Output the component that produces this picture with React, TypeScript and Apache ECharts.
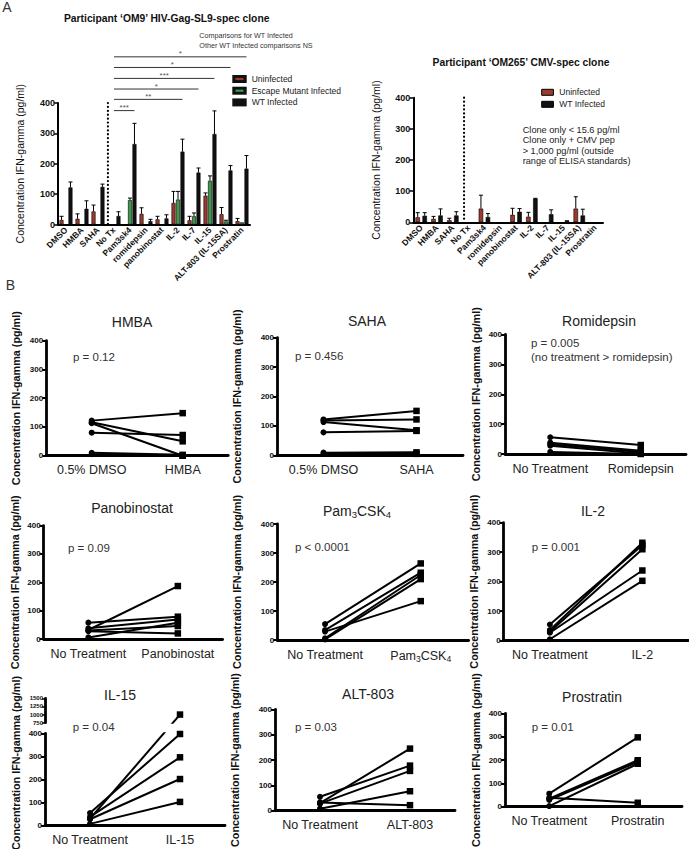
import React, { useEffect, useRef } from 'react';
import * as echarts from 'echarts';

const FONT = '"Liberation Sans", Arial, Helvetica, sans-serif';
const RED = '#9b3a2e';
const GREEN = '#3d9a4d';
const BLACK = '#111111';
const YNAME = 'Concentration IFN-gamma (pg/ml)';

// ---------------- Panel A data ----------------
const treatmentsA = ['DMSO', 'HMBA', 'SAHA', 'No Tx', 'Pam3sk4', 'romidepsin', 'panobinostat', 'IL-2', 'IL-7', 'IL-15', 'ALT-803 (IL-15SA)', 'Prostratin'];
const yTicksA = [0, 100, 200, 300, 400];
const seriesNamesOM9 = ['Uninfected', 'Escape Mutant Infected', 'WT Infected'];
const om9Uninfected = [15, 19, 43, null, null, 35, 17, 71, 14, 95, 34, 11];
const om9UninfectedSD = [27, 35, 64, null, null, 55, 27, 109, 27, 104, 56, 20];
const om9Escape = [null, null, null, null, 80, null, null, 82, 27, 144, 10, 7];
const om9EscapeSD = [null, null, null, null, 87, null, null, 109, 38, 160, 14, null];
const om9WT = [122, 52, 124, 28, 265, 11, 20, 240, 171, 298, 178, 184];
const om9WTSD = [140, 78, 133, 42, 333, 17, 32, 281, 186, 374, 194, 227];
const sigTargets = ['Pam3sk4', 'IL-2', 'IL-7', 'IL-15', 'ALT-803 (IL-15SA)', 'Prostratin'];
const sigStars = ['***', '**', '*', '***', '*', '*'];
const sigLevels = [375, 412, 446, 481, 517, 552];
const om9Notes = ['Comparisons for WT Infected', 'Other WT Infected comparisons NS'];

const seriesNamesOM265 = ['Uninfected', 'WT Infected'];
const om265Uninfected = [16, 11, 7, null, 44, null, 24, 18, null, null, 44, null];
const om265UninfectedSD = [31, 19, 13, null, 87, null, 45, 32, null, null, 82, null];
const om265WT = [21, 22, 22, null, 17, null, 34, 76, 26, 4, 22, null];
const om265WTSD = [31, 43, 34, null, 28, null, 44, 77, 40, 5, 42, null];
const om265Notes = ['Clone only < 15.6 pg/ml', 'Clone only + CMV pep', '> 1,000 pg/ml (outside', 'range of ELISA standards)'];

// ---------------- Panel B data ----------------
const hmbaCats = ['0.5% DMSO', 'HMBA'];
const hmbaBefore = [122, 116, 113, 80, 10, 5];
const hmbaAfter = [148, 50, 0, 72, 3, 0];
const sahaCats = ['0.5% DMSO', 'SAHA'];
const sahaBefore = [122, 118, 113, 78, 9, 5];
const sahaAfter = [151, 122, 85, 83, 10, 5];
const romiCats = ['No Treatment', 'Romidepsin'];
const romiBefore = [56, 38, 33, 28, 7];
const romiAfter = [30, 11, 7, 2, 0];
const panoCats = ['No Treatment', 'Panobinostat'];
const panoBefore = [58, 32, 38, 28, 6, 30];
const panoAfter = [79, 187, 69, 20, 58, 46];
const pamCats = ['No Treatment', 'Pam3CSK4'];
const pamBefore = [55, 34, 29, 6, 2];
const pamAfter = [264, 232, 134, 224, 210];
const il2Cats = ['No Treatment', 'IL-2'];
const il2Before = [55, 36, 30, 27, 5];
const il2After = [324, 332, 310, 238, 203];
const il15Cats = ['No Treatment', 'IL-15'];
const il15Before = [30, 55, 38, 28, 8];
const il15After = [1000, 397, 296, 202, 103];
const il15UpperTicks = [750, 1000, 1250, 1500];
const altCats = ['No Treatment', 'ALT-803'];
const altBefore = [30, 55, 28, 8, 33];
const altAfter = [245, 178, 157, 77, 22];
const proCats = ['No Treatment', 'Prostratin'];
const proBefore = [56, 35, 29, 3, 38];
const proAfter = [297, 199, 192, 184, 17];
const yTicksB = [0, 100, 200, 300, 400];

const PAM_RICH = '{a|Pam}{s|3}{a|CSK}{s|4}';

// layout of the B panels
const panelsB: any[] = [
  { title: 'HMBA', cats: hmbaCats, before: hmbaBefore, after: hmbaAfter, p: ['p = 0.12'], left: 46.2, top: 340.7, width: 182, height: 115, gap: 25, tx: 132, ty: 322, px: 73, py: 356.7 },
  { title: 'SAHA', cats: sahaCats, before: sahaBefore, after: sahaAfter, p: ['p = 0.456'], left: 277, top: 337.7, width: 186, height: 117.6, gap: 35, tx: 367, ty: 321, px: 295, py: 356 },
  { title: 'Romidepsin', cats: romiCats, before: romiBefore, after: romiAfter, p: ['p = 0.005', '(no treatment > romidepsin)'], left: 505, top: 334.5, width: 181, height: 119.5, gap: 24, tx: 599, ty: 321, px: 531, py: 343.3 },
  { title: 'Panobinostat', cats: panoCats, before: panoBefore, after: panoAfter, p: ['p = 0.09'], left: 43.6, top: 525.6, width: 179, height: 113.5, gap: 23, tx: 132, ty: 508, px: 68, py: 548 },
  { title: PAM_RICH, rich: true, cats: pamCats, before: pamBefore, after: pamAfter, p: ['p < 0.0001'], left: 277.2, top: 524, width: 191.4, height: 116, gap: 35, tx: 357, ty: 511, px: 295, py: 547.3 },
  { title: 'IL-2', cats: il2Cats, before: il2Before, after: il2After, p: ['p = 0.001'], left: 503.6, top: 522.7, width: 185, height: 118, gap: 24, tx: 593, ty: 511, px: 531.7, py: 547.3 },
  { title: 'IL-15', cats: il15Cats, before: il15Before, after: il15After, p: ['p = 0.04'], left: 45, top: 733.3, width: 180, height: 92.4, gap: 25, tx: 120, ty: 695, px: 72.7, py: 727.3, broken: { top: 698.3, height: 24.4, min: 750, max: 1500 } },
  { title: 'ALT-803', cats: altCats, before: altBefore, after: altAfter, p: ['p = 0.03'], left: 275, top: 709.3, width: 180, height: 116.4, gap: 35, tx: 368, ty: 694, px: 295, py: 727.3 },
  { title: 'Prostratin', cats: proCats, before: proBefore, after: proAfter, p: ['p = 0.01'], left: 505, top: 713.3, width: 177, height: 114.4, gap: 24, tx: 592, ty: 696.7, px: 531.7, py: 726.7 },
];

function barOffsets(n: number, w: number, gap: number) {
  const total = n * w + (n - 1) * gap;
  const out: number[] = [];
  for (let k = 0; k < n; k++) out.push(-total / 2 + w / 2 + k * (w + gap));
  return out;
}

const plain = (v: number) => String(v);

function catAxisA(gi: number) {
  return {
    gridIndex: gi, type: 'category', data: treatmentsA,
    axisLine: { lineStyle: { color: '#000', width: 2 } },
    axisTick: { alignWithLabel: true, length: 3, lineStyle: { color: '#000', width: 1.5 } },
    axisLabel: { interval: 0, rotate: 45, fontSize: 8.5, fontWeight: 'bold', color: '#111', fontFamily: FONT, margin: 4 },
    splitLine: { show: false },
  };
}

function valAxisA(gi: number, gap: number) {
  return {
    gridIndex: gi, type: 'value', min: yTicksA[0], max: yTicksA[yTicksA.length - 1], interval: yTicksA[1] - yTicksA[0],
    axisLine: { show: true, lineStyle: { color: '#000', width: 2 } },
    axisTick: { show: true, length: 4, lineStyle: { color: '#000', width: 1.5 } },
    axisLabel: { fontSize: 9, fontWeight: 'bold', color: '#111', fontFamily: FONT, margin: 3, formatter: plain },
    splitLine: { show: false },
    name: YNAME, nameLocation: 'middle', nameGap: gap,
    nameTextStyle: { fontSize: 10.5, color: '#111', fontFamily: FONT },
  };
}

function errSeries(gi: number, vals: any[], sds: any[], offset: number) {
  const data = vals
    .map((v, i) => (v == null || sds[i] == null ? null : [i, v, sds[i]]))
    .filter((d) => d != null);
  return {
    type: 'custom', xAxisIndex: gi, yAxisIndex: gi, silent: true, clip: false, z: 1,
    encode: { x: 0, y: [1, 2] },
    renderItem: (params: any, api: any) => {
      const x = api.value(0);
      const p0 = api.coord([x, api.value(1)]);
      const p1 = api.coord([x, api.value(2)]);
      const cx = p0[0] + offset;
      return {
        type: 'group',
        children: [
          { type: 'line', shape: { x1: cx, y1: p0[1], x2: cx, y2: p1[1] }, style: { stroke: '#000', lineWidth: 1 } },
          { type: 'line', shape: { x1: cx - 2, y1: p1[1], x2: cx + 2, y2: p1[1] }, style: { stroke: '#000', lineWidth: 1 } },
        ],
      };
    },
    data,
  };
}

function buildOption() {
  const grid: any[] = [];
  const xAxis: any[] = [];
  const yAxis: any[] = [];
  const series: any[] = [];

  const addBars = (gi: number, vals: any[][], sds: any[][], names: string[], colors: string[], w: number, gapPx: number) => {
    const offs = barOffsets(vals.length, w, gapPx);
    vals.forEach((v, k) => {
      series.push({
        type: 'bar', name: names[k], xAxisIndex: gi, yAxisIndex: gi, data: v, barWidth: w,
        barGap: (gapPx / w) * 100 + '%', silent: true, z: 2,
        itemStyle: { color: colors[k], borderColor: '#000', borderWidth: 0.6 },
      });
      series.push(errSeries(gi, v, sds[k], offs[k]));
    });
  };

  // A left
  grid.push({ left: 58, top: 103, width: 192, height: 121.5 });
  xAxis.push(catAxisA(0));
  yAxis.push(valAxisA(0, 33));
  addBars(0, [om9Uninfected, om9Escape, om9WT], [om9UninfectedSD, om9EscapeSD, om9WTSD], seriesNamesOM9, [RED, GREEN, BLACK], 4, 0.48);

  // A right
  grid.push({ left: 413.3, top: 97.7, width: 189.7, height: 124.6 });
  xAxis.push(catAxisA(1));
  yAxis.push(valAxisA(1, 31.5));
  addBars(1, [om265Uninfected, om265WT], [om265UninfectedSD, om265WTSD], seriesNamesOM265, [RED, BLACK], 4.5, 2.5);

  // B panels
  panelsB.forEach((pd) => {
    const gi = grid.length;
    grid.push({ left: pd.left, top: pd.top, width: pd.width, height: pd.height });
    xAxis.push({
      gridIndex: gi, type: 'category', data: pd.cats, boundaryGap: true,
      axisLine: { lineStyle: { color: '#000', width: 2.8 } },
      axisTick: { alignWithLabel: true, length: 4, lineStyle: { color: '#000', width: 2 } },
      axisLabel: {
        interval: 0, fontSize: 12.5, color: '#222', fontFamily: FONT, margin: 8,
        formatter: (v: string) => (v === 'Pam3CSK4' ? PAM_RICH : v),
        rich: {
          a: { fontSize: 12.5, color: '#222', fontFamily: FONT, lineHeight: 15 },
          s: { fontSize: 8.5, color: '#222', fontFamily: FONT, lineHeight: 8, verticalAlign: 'bottom' },
        },
      },
      splitLine: { show: false },
    });
    yAxis.push({
      gridIndex: gi, type: 'value', min: yTicksB[0], max: yTicksB[yTicksB.length - 1], interval: yTicksB[1] - yTicksB[0],
      axisLine: { show: true, lineStyle: { color: '#000', width: 2.8 } },
      axisTick: { show: true, length: 4, lineStyle: { color: '#000', width: 2 } },
      axisLabel: { fontSize: 8, fontWeight: 'bold', color: '#111', fontFamily: FONT, margin: 3, formatter: plain },
      splitLine: { show: false },
      name: pd.broken ? '' : YNAME, nameLocation: 'middle', nameGap: pd.gap,
      nameTextStyle: { fontSize: 10.8, fontWeight: 'bold', color: '#111', fontFamily: FONT },
    });

    let gu = -1;
    let toLower = (v: number) => v;
    let toUpper = (v: number) => v;
    if (pd.broken) {
      const b = pd.broken;
      gu = grid.length;
      grid.push({ left: pd.left, top: b.top, width: pd.width, height: b.height });
      xAxis.push({ gridIndex: gu, type: 'category', data: pd.cats, boundaryGap: true, show: false });
      yAxis.push({
        gridIndex: gu, type: 'value', min: b.min, max: b.max, interval: il15UpperTicks[1] - il15UpperTicks[0],
        axisLine: { show: true, lineStyle: { color: '#000', width: 2.8 } },
        axisTick: { show: true, length: 3, lineStyle: { color: '#000', width: 1.5 } },
        axisLabel: { fontSize: 6, fontWeight: 'bold', color: '#111', fontFamily: FONT, margin: 2, formatter: plain },
        splitLine: { show: false },
      });
      const lowMax = yTicksB[yTicksB.length - 1];
      const pyLow = (v: number) => pd.top + pd.height * (1 - v / lowMax);
      const pyUp = (v: number) => b.top + b.height * (1 - (v - b.min) / (b.max - b.min));
      toLower = (v: number) => lowMax * (1 - (pyUp(v) - pd.top) / pd.height);
      toUpper = (v: number) => b.min + (b.max - b.min) * (1 - (pyLow(v) - b.top) / b.height);
    }

    const line = (g: number, data: any[]) => ({
      type: 'line', xAxisIndex: g, yAxisIndex: g, data, silent: true, z: 3,
      lineStyle: { color: '#000', width: 2 }, itemStyle: { color: '#000' },
    });
    pd.before.forEach((b: number, i: number) => {
      const a = pd.after[i];
      if (pd.broken && a > yTicksB[yTicksB.length - 1]) {
        series.push(line(gi, [{ value: b, symbol: 'circle', symbolSize: 6 }, { value: toLower(a), symbol: 'none' }]));
        series.push(line(gu, [{ value: toUpper(b), symbol: 'none' }, { value: a, symbol: 'rect', symbolSize: 6.5 }]));
      } else {
        series.push(line(gi, [{ value: b, symbol: 'circle', symbolSize: 6 }, { value: a, symbol: 'rect', symbolSize: 6.5 }]));
      }
    });
  });

  return {
    animation: false,
    backgroundColor: '#fff',
    textStyle: { fontFamily: FONT },
    grid, xAxis, yAxis, series,
  };
}

function txt(x: number, y: number, text: string, o: any = {}) {
  const align = o.align || 'left';
  const va = o.va || 'middle';
  const style: any = {
    text, fill: o.fill || '#222', fontSize: o.size || 10, fontWeight: o.weight || 'normal', fontFamily: FONT,
    align, verticalAlign: va, textAlign: align, textVerticalAlign: va,
  };
  if (o.rich) style.rich = o.rich;
  return { type: 'text', x, y, rotation: o.rotation || 0, silent: true, style };
}

function buildGraphics(chart: any) {
  const g: any[] = [];
  // section letters
  g.push(txt(7, 7, 'A', { size: 14, fill: '#333', align: 'center' }));
  g.push(txt(10.5, 285, 'B', { size: 14, fill: '#333', align: 'center' }));

  // A left title, notes, legend
  g.push(txt(166.7, 18.3, 'Participant \u2018OM9\u2019 HIV-Gag-SL9-spec clone', { size: 10.3, weight: 'bold', fill: '#111', align: 'center' }));
  om9Notes.forEach((t, i) => g.push(txt(199.3, 35 + i * 10.7, t, { size: 7.2, fill: '#333' })));
  const legColors = [RED, GREEN, BLACK];
  seriesNamesOM9.forEach((n, i) => {
    const yy = 79 + i * 11.7;
    g.push({ type: 'rect', silent: true, shape: { x: 232.3, y: yy - 4, width: 14.4, height: 8 }, style: { fill: '#111' } });
    if (i < 2) g.push({ type: 'rect', silent: true, shape: { x: 235.5, y: yy - 1.1, width: 8, height: 2.2 }, style: { fill: legColors[i] } });
    g.push(txt(251.7, yy, n, { size: 8.5, fill: '#222' }));
  });

  // A right title, legend, notes
  g.push(txt(521, 62.7, 'Participant \u2018OM265\u2019 CMV-spec clone', { size: 10.3, weight: 'bold', fill: '#111', align: 'center' }));
  const legColors2 = [RED, BLACK];
  seriesNamesOM265.forEach((n, i) => {
    const yy = 92.3 + i * 12;
    g.push({ type: 'rect', silent: true, shape: { x: 541.7, y: yy - 3, width: 11.7, height: 6 }, style: { fill: legColors2[i], stroke: '#000', lineWidth: 1 } });
    g.push(txt(559.3, yy, n, { size: 8.5, fill: '#222' }));
  });
  om265Notes.forEach((t, i) => g.push(txt(522.7, 130 + i * 10.3, t, { size: 9.2, fill: '#222' })));

  // A left significance brackets and dotted separators
  const xA = (c: string) => chart.convertToPixel({ xAxisIndex: 0 }, c) as number;
  const yA = (v: number) => chart.convertToPixel({ yAxisIndex: 0 }, v) as number;
  const bandA = xA(treatmentsA[1]) - xA(treatmentsA[0]);
  const wtOff = barOffsets(3, 4, 0.48)[2];
  const sx = xA('No Tx');
  sigTargets.forEach((t, k) => {
    const y = yA(sigLevels[k]);
    const x2 = xA(t) + wtOff;
    g.push({ type: 'line', silent: true, shape: { x1: sx, y1: y, x2, y2: y }, style: { stroke: '#333', lineWidth: 1 } });
    g.push(txt((sx + x2) / 2, y - 3, sigStars[k], { size: 8, fill: '#555', align: 'center' }));
  });
  const dotStyle = { stroke: '#000', lineWidth: 2.2, lineDash: [0.1, 3.8], lineCap: 'round' };
  const dx1 = xA('No Tx') - 0.38 * bandA;
  g.push({ type: 'line', silent: true, shape: { x1: dx1, y1: yA(400), x2: dx1, y2: yA(0) }, style: dotStyle });
  const xB = (c: string) => chart.convertToPixel({ xAxisIndex: 1 }, c) as number;
  const yB = (v: number) => chart.convertToPixel({ yAxisIndex: 1 }, v) as number;
  const bandB = xB(treatmentsA[1]) - xB(treatmentsA[0]);
  const dx2 = xB('No Tx') - 0.29 * bandB;
  g.push({ type: 'line', silent: true, shape: { x1: dx2, y1: yB(400), x2: dx2, y2: yB(0) }, style: dotStyle });

  // B titles and p-values
  const titleRich = {
    a: { fontSize: 14, fill: '#222', fontFamily: FONT, lineHeight: 17 },
    s: { fontSize: 9.5, fill: '#222', fontFamily: FONT, lineHeight: 9, verticalAlign: 'bottom' },
  };
  panelsB.forEach((pd) => {
    g.push(txt(pd.tx, pd.ty, pd.title, { size: 14, fill: '#222', align: 'center', rich: pd.rich ? titleRich : undefined }));
    pd.p.forEach((t: string, i: number) => g.push(txt(pd.px, pd.py + i * 13.4, t, { size: 11.5, fill: '#333' })));
    if (pd.broken) {
      g.push(txt(16, 763, YNAME, { size: 10.8, weight: 'bold', fill: '#111', align: 'center', rotation: Math.PI / 2 }));
    }
  });
  return g;
}

export default function App() {
  const ref = useRef<HTMLDivElement>(null);
  useEffect(() => {
    const el = ref.current;
    if (!el) return;
    const chart = echarts.init(el, null, { renderer: 'svg' });
    chart.setOption(buildOption());
    chart.setOption({ graphic: buildGraphics(chart) });
    return () => chart.dispose();
  }, []);
  return <div ref={ref} style={{ position: 'absolute', left: 0, top: 0, width: 689, height: 849, background: '#fff' }} />;
}
